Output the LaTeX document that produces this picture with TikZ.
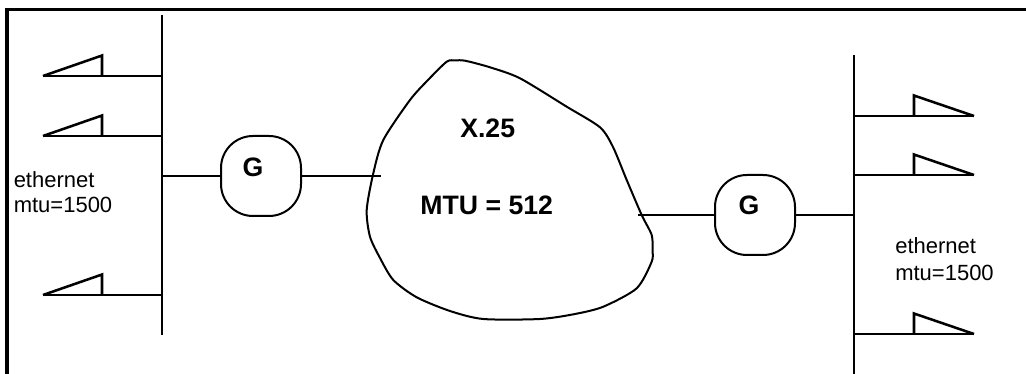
\documentclass[tikz,border=0pt]{standalone}
\usepackage{fontspec}
\setmainfont{Liberation Sans}
\tikzset{
  x=0.75pt,y=-0.75pt,
  wire/.style={line width=1.5pt,black},
  frameline/.style={line width=2.7pt,black},
  gatebox/.style={draw=black,line width=1.5pt,fill=white,minimum width=60pt,minimum height=60pt,rounded corners=24pt,inner sep=0pt},
  hosthead/.style={line width=1.9pt,black,line join=miter},
  small/.style={font=\fontsize{16.5}{18.8}\selectfont,align=left,inner sep=0pt,anchor=north west},
  bigbold/.style={font=\bfseries\fontsize{20}{22}\selectfont,inner sep=0pt}
}
\begin{document}
\begin{tikzpicture}
\useasboundingbox (0,0) rectangle (1026,374);
% frame
\coordinate (fbl) at (7,374); \coordinate (ftl) at (7,9.5); \coordinate (ftr) at (1026,9.5);
\draw[frameline] (fbl) -- (ftl) -- (ftr);
% buses
\coordinate (lbt) at (162,15); \coordinate (lbb) at (162,335);
\coordinate (rbt) at (854,55); \coordinate (rbb) at (854,374);
\draw[wire] (lbt) -- (lbb);
\draw[wire] (rbt) -- (rbb);
% cloud
\draw[wire] plot[smooth cycle,tension=0.45] coordinates {
 (446.7,61.7)(455,60.5)(465,60.7)(490,67.3)(520,78.3)(566.7,106.7)(600,127.3)(613,147)(626.7,180)(641.7,215)
 (651.7,235)(652.5,250)(651.7,261.7)(636.7,288.3)(603.3,306.7)(575,314)(540,319)(483.3,319)(450,311)(416.7,297.3)
 (393.3,280)(380,258)(370,236.7)(366.7,210)(373.3,173.3)(383.3,140)(410,100)(428,80)};
% gateways
\node[gatebox] (g1) at (261,176) {};
\node[gatebox] (g2) at (755,215) {};
\node[bigbold] (g1t) at (253,167) {G};
\node[bigbold] (g2t) at (749,205) {G};
% connectors
\coordinate (l0) at (162,176); \coordinate (c1) at (381,176);
\coordinate (c2) at (638,215); \coordinate (r0) at (854,215);
\draw[wire] (l0) -- (g1.west);
\draw[wire] (g1.east) -- (c1);
\draw[wire] (c2) -- (g2.west);
\draw[wire] (g2.east) -- (r0);
% left hosts
\foreach \n/\y in {a/76,b/136,c/295}{
  \coordinate (lb\n) at (162,\y);
  \coordinate (lt\n) at (43,\y);
  \coordinate (lu\n) at (102,\y-20.5);
  \coordinate (lf\n) at (102,\y);
  \draw[wire] (lb\n) -- (lt\n);
  \draw[hosthead] (lt\n) -- (lu\n) -- (lf\n);
}
% right hosts
\foreach \n/\y in {a/116,b/175,c/334}{
  \coordinate (rb\n) at (854,\y);
  \coordinate (rt\n) at (974,\y);
  \coordinate (ru\n) at (914,\y-20.5);
  \coordinate (rf\n) at (914,\y);
  \draw[wire] (rb\n) -- (rt\n);
  \draw[hosthead] (rt\n) -- (ru\n) -- (rf\n);
}
% texts
\node[bigbold] (x25) at (487.7,128) {X.25};
\node[bigbold] (mtu) at (486.7,205) {MTU = 512};
\node[small,anchor=base west] (e1) at (13.5,188) {ethernet};
\node[small,anchor=base west] (m1) at (13.5,213) {mtu=1500};
\node[small,anchor=base west] (e2) at (895,253.5) {ethernet};
\node[small,anchor=base west] (m2) at (895,281) {mtu=1500};
\end{tikzpicture}
\end{document}
